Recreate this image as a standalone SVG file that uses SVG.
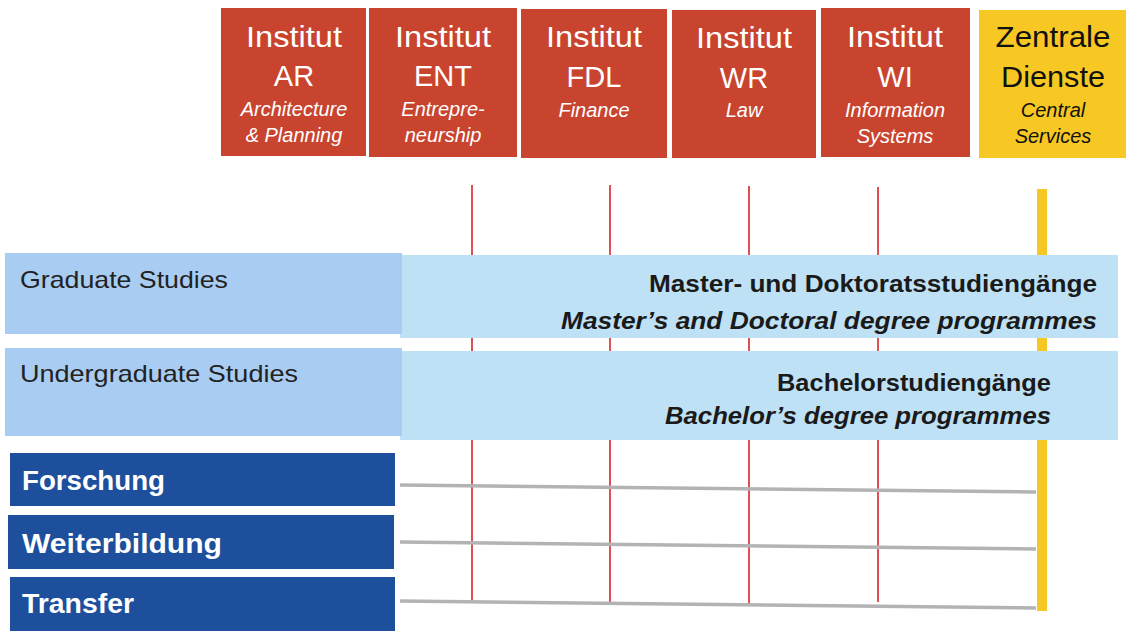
<svg xmlns="http://www.w3.org/2000/svg" width="1126" height="631" viewBox="0 0 1126 631">
<style>
.inst{fill:#c8442f}
.zd{fill:#f7c823}
.t1{font-family:"Liberation Sans",Arial,sans-serif;font-size:29px;fill:#fff;text-anchor:middle}
.t2{font-family:"Liberation Sans",Arial,sans-serif;font-size:20px;font-style:italic;fill:#fff;text-anchor:middle}
.dark{fill:#111}
.lb1{fill:#a9cdf2}
.lb2{fill:#bfe1f5}
.db{fill:#1d4f9c}
.lab{font-family:"Liberation Sans",Arial,sans-serif;font-size:24px;fill:#222}
.big{font-family:"Liberation Sans",Arial,sans-serif;font-size:24px;font-weight:bold;fill:#1a1a1a}
.bigi{font-family:"Liberation Sans",Arial,sans-serif;font-size:24px;font-weight:bold;font-style:italic;fill:#1a1a1a}
.wt{font-family:"Liberation Sans",Arial,sans-serif;font-size:28px;font-weight:bold;fill:#fff}
.red{stroke:#d8232a;stroke-width:1.6}
.gray{stroke:#b3b3b3;stroke-width:3.5}
</style>
<rect width="1126" height="631" fill="#fff"/>
<g id="connectors">
<line class="red" x1="472" y1="185" x2="472" y2="600"/>
<line class="red" x1="610" y1="185" x2="610" y2="604"/>
<line class="red" x1="749" y1="186" x2="749" y2="604"/>
<line class="red" x1="878" y1="187" x2="878" y2="602"/>
<rect x="1037" y="189" width="10" height="422" fill="#f7c823"/>
<line class="gray" x1="400" y1="485" x2="1036" y2="492"/>
<line class="gray" x1="400" y1="542" x2="1036" y2="549"/>
<line class="gray" x1="400" y1="601" x2="1036" y2="608"/>
</g>
<g id="inst-ar">
<rect class="inst" x="221" y="8" width="145" height="148"/>
<text class="t1" x="294" y="47" textLength="96" lengthAdjust="spacingAndGlyphs">Institut</text>
<text class="t1" x="294" y="86">AR</text>
<text class="t2" x="294" y="116">Architecture</text>
<text class="t2" x="294" y="142">&amp; Planning</text>
</g>
<g id="inst-ent">
<rect class="inst" x="369" y="8" width="148" height="149"/>
<text class="t1" x="443" y="47" textLength="96" lengthAdjust="spacingAndGlyphs">Institut</text>
<text class="t1" x="443" y="86">ENT</text>
<text class="t2" x="443" y="116">Entrepre-</text>
<text class="t2" x="443" y="142">neurship</text>
</g>
<g id="inst-fdl">
<rect class="inst" x="521" y="9" width="146" height="149"/>
<text class="t1" x="594" y="47" textLength="96" lengthAdjust="spacingAndGlyphs">Institut</text>
<text class="t1" x="594" y="87">FDL</text>
<text class="t2" x="594" y="117">Finance</text>
</g>
<g id="inst-wr">
<rect class="inst" x="672" y="10" width="144" height="148"/>
<text class="t1" x="744" y="48" textLength="96" lengthAdjust="spacingAndGlyphs">Institut</text>
<text class="t1" x="744" y="88">WR</text>
<text class="t2" x="744" y="117">Law</text>
</g>
<g id="inst-wi">
<rect class="inst" x="821" y="8" width="149" height="149"/>
<text class="t1" x="895" y="47" textLength="96" lengthAdjust="spacingAndGlyphs">Institut</text>
<text class="t1" x="895" y="87">WI</text>
<text class="t2" x="895" y="117">Information</text>
<text class="t2" x="895" y="143">Systems</text>
</g>
<g id="zentrale">
<rect class="zd" x="979" y="10" width="147" height="148"/>
<text class="t1 dark" x="1053" y="47" style="font-size:30px" textLength="115" lengthAdjust="spacingAndGlyphs">Zentrale</text>
<text class="t1 dark" x="1053" y="87" style="font-size:30px" textLength="104" lengthAdjust="spacingAndGlyphs">Dienste</text>
<text class="t2 dark" x="1053" y="117">Central</text>
<text class="t2 dark" x="1053" y="143">Services</text>
</g>
<g id="graduate">
<rect class="lb2" x="400" y="255" width="718" height="83"/>
<rect class="lb1" x="5" y="253" width="397" height="81"/>
<text class="lab" x="20" y="288" textLength="208" lengthAdjust="spacingAndGlyphs">Graduate Studies</text>
<text class="big" x="649" y="292" textLength="448" lengthAdjust="spacingAndGlyphs">Master- und Doktoratsstudiengänge</text>
<text class="bigi" x="561" y="329" textLength="536" lengthAdjust="spacingAndGlyphs">Master’s and Doctoral degree programmes</text>
</g>
<g id="undergraduate">
<rect class="lb2" x="400" y="351" width="718" height="89"/>
<rect class="lb1" x="5" y="348" width="397" height="88"/>
<text class="lab" x="20" y="382" textLength="278" lengthAdjust="spacingAndGlyphs">Undergraduate Studies</text>
<text class="big" x="777" y="391" textLength="274" lengthAdjust="spacingAndGlyphs">Bachelorstudiengänge</text>
<text class="bigi" x="665" y="424" textLength="386" lengthAdjust="spacingAndGlyphs">Bachelor’s degree programmes</text>
</g>
<g id="forschung">
<rect class="db" x="10" y="453" width="385" height="53"/>
<text class="wt" x="22" y="490" textLength="143" lengthAdjust="spacingAndGlyphs">Forschung</text>
</g>
<g id="weiterbildung">
<rect class="db" x="8" y="515" width="386" height="54"/>
<text class="wt" x="22" y="553" textLength="200" lengthAdjust="spacingAndGlyphs">Weiterbildung</text>
</g>
<g id="transfer">
<rect class="db" x="10" y="577" width="385" height="54"/>
<text class="wt" x="22" y="613" textLength="112" lengthAdjust="spacingAndGlyphs">Transfer</text>
</g>
</svg>
